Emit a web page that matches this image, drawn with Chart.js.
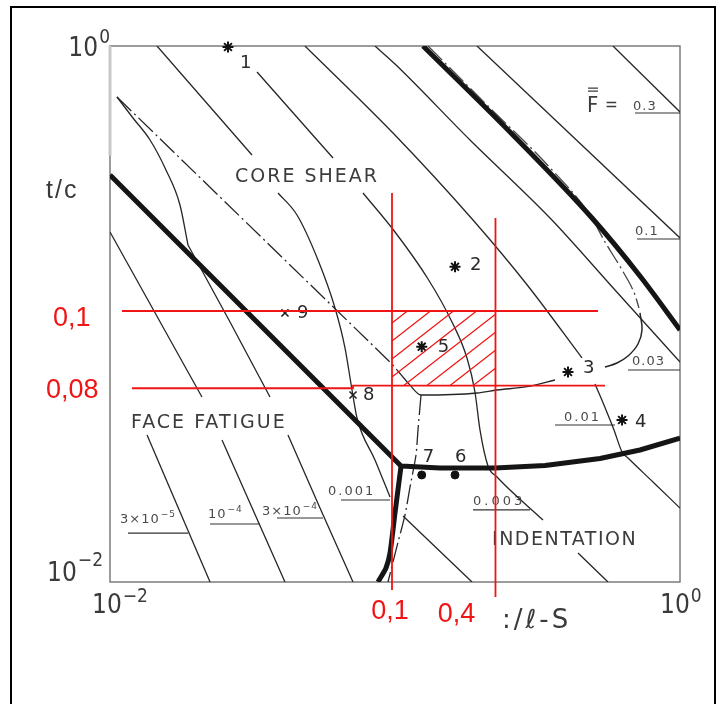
<!DOCTYPE html>
<html>
<head>
<meta charset="utf-8">
<script src="https://cdn.jsdelivr.net/npm/chart.js@4.4.1/dist/chart.umd.min.js"></script>
<style>
  body { margin: 0; background: #fff; }
  canvas { display: block; }
</style>
</head>
<body>
<canvas id="mapa" width="719" height="704"></canvas>
<script>
// valores leidos del mapa (x = c/l-S, y = t/c, ambos log)
// null = corte de la linea (texto encima)
const f03X = [0.5820, 1];
const f03Y = [1, 0.5672];
const f01X = [0.1940, 1];
const f01Y = [1, 0.1921];
const f003X = [0.08507, 0.1, 0.1833, 0.3499, 0.5914, 1];
const f003Y = [1, 0.8566, 0.4460, 0.2281, 0.1229, 0.06622];
const f001X = [0.04832, 0.09840, 0.1878, 0.2929, 0.4530, null, 0.5033, 0.5500, 0.5867, 0.6261, 0.6570, 0.8039, 1];
const f001Y = [1, 0.4736, 0.2242, 0.1272, 0.06853, null, 0.05481, 0.04384, 0.03692, 0.03056, 0.02901, 0.02361, 0.01888];
const f0003X = [0.03280, 0.06061, null, 0.07721, 0.1, 0.1306, 0.1585, 0.1789, 0.1908, 0.1987, 0.2120, 0.2280, 0.3306, null, 0.4387, 0.5589];
const f0003Y = [0.7998, 0.3820, null, 0.2828, 0.2023, 0.1351, 0.09335, 0.06853, 0.05117, 0.03692, 0.02709, 0.02465, 0.01703, null, 0.01283, 0.01];
const f0001X = [0.01462, 0.03149, null, 0.03886, 0.04530, 0.05368, 0.06159, 0.06678, 0.07066, 0.07357, 0.08507, 0.09605, null, 0.1067, 0.1863];
const f0001Y = [1, 0.3920, null, 0.2828, 0.2341, 0.1590, 0.1053, 0.07466, 0.05205, 0.04091, 0.02852, 0.02076, null, 0.01763, 0.01];
// 3e-4: tramo curvo (rotura del nucleo) y tramo recto (fatiga)
const f3e4CurvaX = [0.01058, 0.01204, 0.01382, 0.01572, 0.01760, 0.01878];
const f3e4CurvaY = [0.6453, 0.5387, 0.4460, 0.3445, 0.2551, 0.1809];
const f3e4RectaX = [0.01878, 0.02637, 0.03642, null, 0.04212, 0.05455, 0.07123];
const f3e4RectaY = [0.1809, 0.09335, 0.04901, null, 0.03535, 0.01888, 0.01];
const f1e4X = [0.01, 0.02102, null, 0.02472, 0.04111];
const f1e4Y = [0.2023, 0.04901, null, 0.03388, 0.01];
const f3e5X = [0.01349, 0.02244];
const f3e5Y = [0.03535, 0.01];

// fronteras gruesas
const gruesaAX = [0.1254, 0.2532, 0.4912, 0.7237, 1];
const gruesaAY = [1, 0.4777, 0.2281, 0.1386, 0.0872];
const gruesaBX = [0.01, 0.1050, 0.1438, 0.2244, 0.3360, 0.5240, 0.7237, 1];
const gruesaBY = [0.3302, 0.02709, 0.02663, 0.02663, 0.02721, 0.02889, 0.03108, 0.03445];
const gruesaCX = [0.1050, 0.1, 0.09605, 0.09298, 0.08717];
const gruesaCY = [0.02709, 0.01809, 0.01283, 0.01128, 0.01];

// fronteras finas (trazo y punto) y arco
const trazo1X = [0.01058, 0.09761, 0.1111];
const trazo1Y = [0.6453, 0.06508, 0.05527];
const bordeX = [0.1111, 0.1234, 0.1940, 0.2280, 0.2905, 0.3642];
const bordeY = [0.05527, 0.04986, 0.05073, 0.05205, 0.05355, 0.05672];
const trazo2X = [0.1234, 0.1204, 0.1185, 0.1129, 0.1084, 0.1008, 0.09450];
const trazo2Y = [0.04986, 0.03692, 0.02978, 0.02262, 0.01778, 0.01316, 0.01];
const trazo3X = [0.1306, 0.2120, 0.3506, 0.4832, 0.5455, 0.6261, 0.6953, 0.7178];
const trazo3Y = [1, 0.5972, 0.3506, 0.2341, 0.1857, 0.1459, 0.1177, 0.1053];
const arcoX = [0.7237, 0.7357, 0.7123, 0.6570, 0.6010, 0.5455];
const arcoY = [0.1009, 0.0872, 0.07728, 0.06970, 0.06565, 0.06342];

// etiquetas de las curvas F y su subrayado
const etiquetas = [['0.3'], ['0.1'], ['0.03'], ['0.01'], ['0.003'], ['0.001'], ['3×10', '−4'], ['10', '−4'], ['3×10', '−5']];
const etiqX = [0.6842, 0.6953, 0.6787, 0.3917, 0.1878, 0.0582, 0.03415, 0.02208, 0.01084];
const etiqY = [0.5769, 0.1971, 0.06453, 0.03988, 0.01938, 0.02112, 0.01778, 0.01733, 0.0166];
const subX0 = [0.6953, 0.7066, 0.6570, 0.3642, 0.1878, 0.06465, 0.03855, 0.02244, 0.01157];
const subX1 = [1, 1, 1, 0.5914, 0.2976, 0.09605, 0.05589, 0.03360, 0.01878];
const subY = [0.5623, 0.1905, 0.06180, 0.03853, 0.01857, 0.02023, 0.01733, 0.01646, 0.01523];

// puntos de diseño
const estrellaX = [0.02594, 0.1624, 0.4046, 0.6261, 0.1241];
const estrellaY = [0.9915, 0.1501, 0.06076, 0.04022, 0.07551];
const estrellaN = ['1', '2', '3', '4', '5'];
const cruzX = [0.07123, 0.04111];
const cruzY = [0.04986, 0.1009];
const cruzN = ['8', '9'];
const puntoX = [0.1624, 0.1241];
const puntoY = [0.02508, 0.02508];
const puntoN = ['6', '7'];

// zonas
const zonaTextos = ['CORE SHEAR', 'FACE FATIGUE', 'INDENTATION'];
const zonaX = [0.02745, 0.01185, 0.2190];
const zonaY = [0.3108, 0.03755, 0.01374];

// marcas rojas
const rojaV1X = [0.09761, 0.09761];
const rojaV1Y = [0.2828, 0.009335];
const rojaV2X = [0.2252, 0.2252];
const rojaV2Y = [0.2281, 0.008790];
const rojaH1X = [0.01102, 0.5156];
const rojaH1Y = [0.1026, 0.1026];
const rojaH2X = [0.01194, 0.07123, 0.07123, 0.5455];
const rojaH2Y = [0.05283, 0.05283, 0.05402, 0.05402];
const rayaX0 = [0.09761, 0.09761, 0.09761, 0.09761, 0.1071, 0.1291, 0.1556, 0.1875];
const rayaY0 = [0.09255, 0.07930, 0.06795, 0.05820, 0.05402, 0.05402, 0.05402, 0.05402];
const rayaX1 = [0.1105, 0.1332, 0.1604, 0.1933, 0.2252, 0.2252, 0.2252, 0.2252];
const rayaY1 = [0.1026, 0.1026, 0.1026, 0.1026, 0.09975, 0.08545, 0.07321, 0.06272];
const rojaTextos = ['0,1', '0,4', '0,1', '0,08'];

const fuenteNum = '"Liberation Sans Narrow", "DejaVu Sans Condensed", sans-serif';
const fuenteTexto = '"DejaVu Sans", sans-serif';
const fuenteRoja = '"Liberation Sans", Arial, sans-serif';
const rojo = "#f01414";
const tinta = "#262626";

const puntos = (xs, ys) => xs.map((x, i) => ({ x: x, y: ys[i] }));

const linea = (xs, ys, color, ancho, extra) => Object.assign({
    data: puntos(xs, ys),
    showLine: true,
    borderColor: color,
    borderWidth: ancho,
    pointRadius: 0,
    pointHoverRadius: 0,
    fill: false,
    tension: 0,
    spanGaps: false,
}, extra || {});

const suave = { cubicInterpolationMode: "monotone" };

const rayas = [];
for (let i = 0; i < rayaX0.length; i++) {
    rayas.push({ x: rayaX0[i], y: rayaY0[i] });
    rayas.push({ x: rayaX1[i], y: rayaY1[i] });
    rayas.push({ x: null, y: null });
}

const subrayados = [];
for (let i = 0; i < subX0.length; i++) {
    subrayados.push({ x: subX0[i], y: subY[i] });
    subrayados.push({ x: subX1[i], y: subY[i] });
    subrayados.push({ x: null, y: null });
}

const trazoPunto = [20, 4, 2, 4];

const datasets = [
    linea(rojaV1X, rojaV1Y, rojo, 1.8, { clip: false }),
    linea(rojaV2X, rojaV2Y, rojo, 1.8, { clip: false }),
    linea(rojaH1X, rojaH1Y, rojo, 1.8, { clip: false }),
    linea(rojaH2X, rojaH2Y, rojo, 1.8, { clip: false }),
    Object.assign(linea([], [], rojo, 1.2), { data: rayas }),
    {
        data: puntos(estrellaX, estrellaY), showLine: false, pointStyle: "star",
        pointRadius: 5.5, borderColor: "#111", borderWidth: 2, clip: false,
    },
    {
        data: puntos(cruzX, cruzY), showLine: false, pointStyle: "crossRot",
        pointRadius: 5, borderColor: "#222", borderWidth: 1.6,
    },
    {
        data: puntos(puntoX, puntoY), showLine: false, pointStyle: "circle",
        pointRadius: 4, borderColor: "#111", backgroundColor: "#111", borderWidth: 1,
    },
    linea(gruesaAX, gruesaAY, "#151515", 5, suave),
    linea(gruesaBX, gruesaBY, "#151515", 5, { borderJoinStyle: "round" }),
    linea(gruesaCX, gruesaCY, "#151515", 5, { tension: 0.2 }),
    linea(trazo1X, trazo1Y, tinta, 1.3, { borderDash: trazoPunto }),
    linea(trazo2X, trazo2Y, tinta, 1.3, { borderDash: trazoPunto, tension: 0.2 }),
    linea(trazo3X, trazo3Y, "#444", 1.3, Object.assign({ borderDash: trazoPunto }, suave)),
    linea(bordeX, bordeY, tinta, 1.3, suave),
    linea(arcoX, arcoY, tinta, 1.5, { tension: 0.4 }),
    linea(f03X, f03Y, tinta, 1.3),
    linea(f01X, f01Y, tinta, 1.3),
    linea(f003X, f003Y, tinta, 1.3, suave),
    linea(f001X, f001Y, tinta, 1.3, suave),
    linea(f0003X, f0003Y, tinta, 1.3, suave),
    linea(f0001X, f0001Y, tinta, 1.3, suave),
    linea(f3e4CurvaX, f3e4CurvaY, tinta, 1.3, suave),
    linea(f3e4RectaX, f3e4RectaY, tinta, 1.3),
    linea(f1e4X, f1e4Y, tinta, 1.3),
    linea(f3e5X, f3e5Y, tinta, 1.3),
    Object.assign(linea([], [], "#333", 1.2), { data: subrayados }),
];

// texto con exponente
const conExponente = (c, base, sup, x, y, tam, tamSup, sube, fuente) => {
    c.font = `${tam}px ${fuente}`;
    const w1 = c.measureText(base).width;
    c.fillText(base, x, y);
    if (sup) {
        c.font = `${tamSup}px ${fuente}`;
        c.fillText(sup, x + w1 + 1, y - sube);
        return w1 + 1 + c.measureText(sup).width;
    }
    return w1;
};

const anchoExp = (c, base, sup, tam, tamSup, fuente) => {
    c.font = `${tam}px ${fuente}`;
    let w = c.measureText(base).width;
    c.font = `${tamSup}px ${fuente}`;
    return w + 1 + c.measureText(sup).width;
};

const dibujo = {
    id: "dibujo",
    beforeDraw(chart) {
        const c = chart.ctx;
        c.save();
        c.fillStyle = "#fff";
        c.fillRect(0, 0, chart.width, chart.height);
        c.strokeStyle = "#000";
        c.lineWidth = 2;
        c.strokeRect(11, 7, 704, 720);
        c.restore();
    },
    beforeDatasetsDraw(chart) {
        const c = chart.ctx;
        const a = chart.chartArea;
        const px = (v) => chart.scales.x.getPixelForValue(v);
        const py = (v) => chart.scales.y.getPixelForValue(v);
        c.save();

        // marco
        c.strokeStyle = "#7c7c7c";
        c.lineWidth = 1.5;
        c.strokeRect(a.left, a.top, a.right - a.left, a.bottom - a.top);
        c.strokeStyle = "#c8c8c8";
        c.lineWidth = 3;
        c.beginPath();
        c.moveTo(a.left, a.top);
        c.lineTo(a.left, py(0.39));
        c.stroke();

        // ejes
        c.fillStyle = "#3a3a3a";
        c.textAlign = "left";
        c.textBaseline = "alphabetic";
        conExponente(c, "10", "−2", px(0.01) - 18, a.bottom + 31, 26, 19, 11, fuenteNum);
        conExponente(c, "10", "0", px(1) - 20, a.bottom + 31, 26, 19, 11, fuenteNum);
        let w = anchoExp(c, "10", "0", 26, 19, fuenteNum);
        conExponente(c, "10", "0", a.left - w, py(1) + 10, 26, 19, 13, fuenteNum);
        w = anchoExp(c, "10", "−2", 26, 19, fuenteNum);
        conExponente(c, "10", "−2", a.left - 7 - w, py(0.01) - 1, 26, 19, 15, fuenteNum);

        c.font = `25px ${fuenteRoja}`;
        c.letterSpacing = "2px";
        c.fillText("t/c", 46, 198);
        c.font = `26px ${fuenteTexto}`;
        c.letterSpacing = "3px";
        c.fillText(":/ℓ-S", 502, 628);
        c.letterSpacing = "0px";

        // etiquetas rojas
        c.fillStyle = rojo;
        c.font = `27px ${fuenteRoja}`;
        c.textAlign = "center";
        c.fillText(rojaTextos[0], px(rojaV1X[0]) - 2, a.bottom + 37);
        c.fillText(rojaTextos[1], px(rojaV2X[0]) - 39, a.bottom + 40);
        c.textAlign = "left";
        c.fillText(rojaTextos[2], 53, py(rojaH1Y[0]) + 15);
        c.fillText(rojaTextos[3], 46, py(rojaH2Y[0]) + 10);

        // zonas
        c.fillStyle = "#3c3c3c";
        c.font = `19px ${fuenteTexto}`;
        const espacios = ["2px", "2px", "1.5px"];
        zonaTextos.forEach((t, i) => {
            c.letterSpacing = espacios[i];
            c.fillText(t, px(zonaX[i]), py(zonaY[i]));
        });
        c.letterSpacing = "0px";

        // F = (doble barra)
        const fx = px(0.4717);
        const fy = py(0.5769);
        c.font = `22px ${fuenteNum}`;
        c.fillText("F", fx, fy + 2);
        c.font = `17px ${fuenteNum}`;
        c.fillText("=", fx + 18, fy);
        c.strokeStyle = "#3c3c3c";
        c.lineWidth = 1.2;
        c.beginPath();
        c.moveTo(fx + 1, fy - 19);
        c.lineTo(fx + 11, fy - 19);
        c.moveTo(fx + 1, fy - 22);
        c.lineTo(fx + 11, fy - 22);
        c.stroke();

        // etiquetas de curvas
        c.fillStyle = "#4a4a4a";
        const espEtiq = ["1px", "1px", "1px", "2px", "3px", "2px", "1px", "1px", "1px"];
        etiquetas.forEach((e, i) => {
            c.letterSpacing = espEtiq[i];
            conExponente(c, e[0], e[1], px(etiqX[i]), py(etiqY[i]), 13, 9, 6, fuenteTexto);
        });
        c.letterSpacing = "0px";

        // numeros de los puntos
        c.fillStyle = "#2a2a2a";
        c.font = `18px ${fuenteTexto}`;
        const despE = [[12, 21], [15, 3], [15, 1], [13, 7], [16, 5]];
        estrellaN.forEach((n, i) => {
            c.fillText(n, px(estrellaX[i]) + despE[i][0], py(estrellaY[i]) + despE[i][1]);
        });
        const despC = [[10, 5], [12, 5]];
        cruzN.forEach((n, i) => {
            c.fillText(n, px(cruzX[i]) + despC[i][0], py(cruzY[i]) + despC[i][1]);
        });
        const despP = [[0, -13], [1, -13]];
        puntoN.forEach((n, i) => {
            c.fillText(n, px(puntoX[i]) + despP[i][0], py(puntoY[i]) + despP[i][1]);
        });
        c.restore();
    },
};

const ctx = document.getElementById("mapa").getContext("2d");
new Chart(ctx, {
    type: "scatter",
    data: { datasets: datasets },
    options: {
        responsive: false,
        animation: false,
        events: [],
        layout: { padding: { left: 110, top: 46, right: 39, bottom: 122 } },
        scales: {
            x: { type: "logarithmic", min: 0.01, max: 1, display: false },
            y: { type: "logarithmic", min: 0.01, max: 1, display: false },
        },
        plugins: {
            legend: { display: false },
            tooltip: { enabled: false },
        },
    },
    plugins: [dibujo],
});
</script>
</body>
</html>
